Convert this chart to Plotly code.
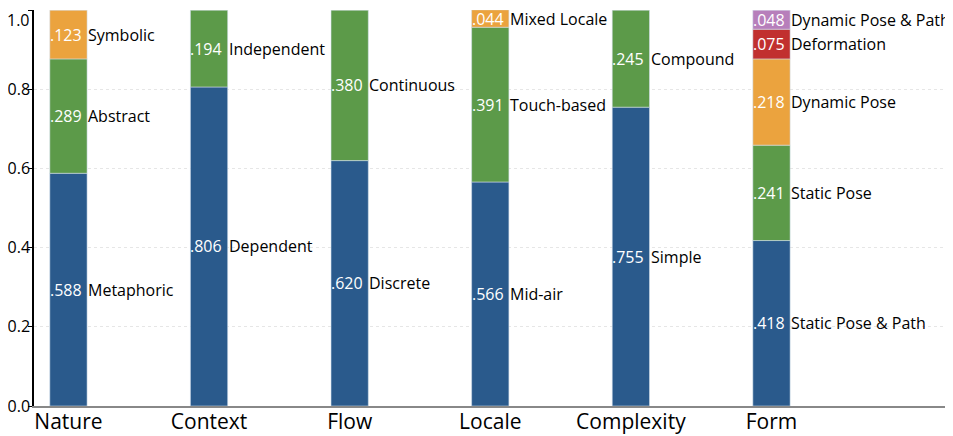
import plotly.graph_objects as go

categories = ["Nature", "Context", "Flow", "Locale", "Complexity", "Form"]

nature_vals = [0.588, 0.289, 0.123]
nature_labels = ["Metaphoric", "Abstract", "Symbolic"]
context_vals = [0.806, 0.194]
context_labels = ["Dependent", "Independent"]
flow_vals = [0.620, 0.380]
flow_labels = ["Discrete", "Continuous"]
locale_vals = [0.566, 0.391, 0.044]
locale_labels = ["Mid-air", "Touch-based", "Mixed Locale"]
complexity_vals = [0.755, 0.245]
complexity_labels = ["Simple", "Compound"]
form_vals = [0.418, 0.241, 0.218, 0.075, 0.048]
form_labels = ["Static Pose & Path", "Static Pose", "Dynamic Pose", "Deformation", "Dynamic Pose & Path"]

y_ticks = [0.0, 0.2, 0.4, 0.6, 0.8, 1.0]
y_ticktext = ["0.0", "0.2", "0.4", "0.6", "0.8", "1.0"]

level_colors = ["#2a5a8c", "#5c9a49", "#eba33e", "#c1302f", "#b77fbb"]

all_vals = [nature_vals, context_vals, flow_vals, locale_vals, complexity_vals, form_vals]
all_labels = [nature_labels, context_labels, flow_labels, locale_labels, complexity_labels, form_labels]

FONT = "Open Sans"
BW = 0.265

fig = go.Figure()
annotations = []
for i, (vals, labs) in enumerate(zip(all_vals, all_labels)):
    base = 0.0
    for j, (v, lab) in enumerate(zip(vals, labs)):
        fig.add_trace(go.Bar(
            x=[i], y=[v], base=[base], width=BW,
            marker=dict(color=level_colors[j], line=dict(color="rgba(210,222,235,0.7)", width=0.8)),
            showlegend=False, hoverinfo="skip",
        ))
        mid = base + v / 2
        vt = ("%.3f" % v).lstrip("0")
        annotations.append(dict(
            x=i - BW / 2, y=mid, xref="x", yref="y", text=vt, showarrow=False,
            xanchor="left", yanchor="middle", xshift=-2,
            font=dict(family=FONT, size=16, color="white"),
        ))
        annotations.append(dict(
            x=i + BW / 2, y=mid, xref="x", yref="y", text=lab, showarrow=False,
            xanchor="left", yanchor="middle", xshift=-1,
            font=dict(family=FONT, size=16, color="black"),
        ))
        base += v

# the top tick label sits just below its tick (as in the reference) so it stays on the page
tick_text_shown = [t if v < 1.0 else "" for v, t in zip(y_ticks, y_ticktext)]
annotations.append(dict(
    x=0, y=y_ticks[-1], xref="paper", yref="y", text=y_ticktext[-1], showarrow=False,
    xanchor="right", yanchor="top", xshift=-3, yshift=2, borderpad=0,
    font=dict(family=FONT, size=16, color="black"),
))

# page body has an 8px margin; figure sized to fit the 953x436 window
fig.update_layout(
    width=945, height=428,
    margin=dict(l=26, r=0, t=2, b=30),
    plot_bgcolor="white", paper_bgcolor="white",
    barmode="overlay",
    annotations=annotations,
    xaxis=dict(
        range=[-0.245, 6.291], tickvals=list(range(len(categories))), ticktext=categories,
        showline=True, linecolor="#888888", linewidth=1.5, showgrid=False, zeroline=False,
        ticks="", tickfont=dict(family=FONT, size=21, color="black"), automargin=False,
        ticklabelstandoff=-4,
    ),
    yaxis=dict(
        range=[0, 1.0005], tickvals=y_ticks, ticktext=tick_text_shown,
        showline=True, linecolor="black", linewidth=1.5, ticks="outside", ticklen=4,
        tickcolor="black", showgrid=True, gridcolor="#e6e6e6", griddash="dot", gridwidth=1,
        zeroline=False, tickfont=dict(family=FONT, size=16, color="black"), automargin=False,
        ticklabelstandoff=-5, ticklabeloverflow="allow",
    ),
)

fig.write_html("out.html")
